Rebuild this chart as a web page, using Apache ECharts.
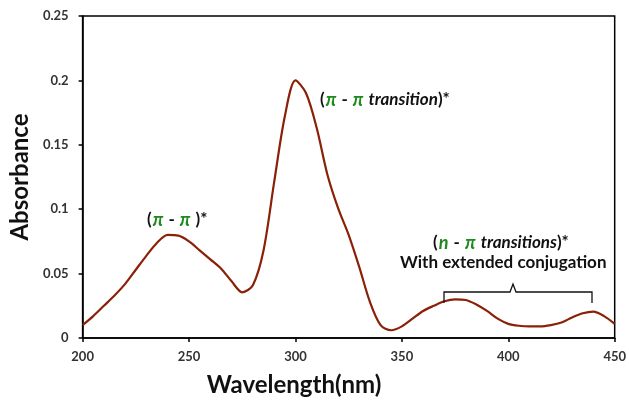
<!DOCTYPE html>
<html><head><meta charset="utf-8">
<script src="https://cdn.jsdelivr.net/npm/echarts@6/dist/echarts.min.js"></script>
<style>html,body{margin:0;padding:0;background:#fff}#c{width:629px;height:405px}</style>
</head><body><div id="c"></div>
<script>
const wavelengths = [200,205,210,215,220,225,230,235,240,245,250,255,260,265,270,275,280,285,290,295,300,305,310,315,320,325,330,335,340,345,350,355,360,365,370,375,380,385,390,395,400,405,410,415,420,425,430,435,440,445,450];
const absorbance  = [0.010,0.017,0.025,0.033,0.042,0.053,0.064,0.074,0.0800,0.0795,0.075,0.068,0.061,0.054,0.044,0.0355,0.041,0.068,0.121,0.172,0.200,0.190,0.163,0.127,0.101,0.080,0.055,0.028,0.010,0.006,0.009,0.015,0.021,0.025,0.0285,0.0300,0.0295,0.026,0.021,0.015,0.011,0.0095,0.009,0.009,0.010,0.012,0.016,0.0192,0.0205,0.017,0.011];
const xTicks = [200,250,300,350,400,450];
const yTicks = [0,0.05,0.1,0.15,0.2,0.25];

const chart = echarts.init(document.getElementById('c'));
const F = 'Lato, "Open Sans", sans-serif';
const G = '#1e8a1e';
function rt(x,y,text,size){
  return {type:'text', z:100, style:{x:x, y:y, textVerticalAlign:'middle', text:text, font:`bold ${size}px ${F}`, fill:'#111', rich:{
    g:{fill:G, fontStyle:'italic', fontWeight:'bold', fontSize:size+1, fontFamily:F, padding:[0,1]},
    i:{fill:'#111', fontStyle:'italic', fontWeight:'bold', fontSize:size, fontFamily:F},
    b:{fill:'#111', fontWeight:'bold', fontSize:size, fontFamily:F}
  }}};
}
chart.setOption({
  animation:false,
  grid:{left:80, right:10, top:16, bottom:67, show:true, borderColor:'#000', borderWidth:1.5},
  xAxis:{type:'value', min:200, max:450, interval:50,
    axisLine:{lineStyle:{color:'#000', width:1.5}},
    axisTick:{show:true, inside:false, length:4, lineStyle:{color:'#000', width:1.5}},
    axisLabel:{fontFamily:F, fontWeight:'bold', fontSize:13, color:'#333', margin:12,
      customValues:xTicks},
    splitLine:{show:false}},
  yAxis:{type:'value', min:0, max:0.25, interval:0.05,
    name:'Absorbance', nameLocation:'middle', nameGap:50,
    nameTextStyle:{fontFamily:F, fontWeight:'bold', fontSize:24, color:'#111'},
    axisLine:{show:true, lineStyle:{color:'#000', width:1.5}},
    axisTick:{show:true, inside:false, length:4, lineStyle:{color:'#000', width:1.5}},
    axisLabel:{fontFamily:F, fontWeight:'bold', fontSize:13, color:'#333', margin:14,
      formatter:v=>String(+v.toFixed(2))},
    splitLine:{show:false}},
  series:[{type:'line', smooth:0.3, symbol:'none',
    data:wavelengths.map((w,i)=>[w,absorbance[i]]),
    lineStyle:{color:'#8b2008', width:2.2}}],
  graphic:[
    {type:'text', z:100, style:{x:294, y:385, textAlign:'center', textVerticalAlign:'middle',
      text:'Wavelength(nm)', font:`bold 24px ${F}`, fill:'#111'}},
    rt(147,220,'{b|(}{g|π} {b|-} {g|π} {b|)*}',17),
    rt(320,100,'{b|(}{g|π} {b|-} {g|π} {i|transition}{b|)*}',17),
    rt(433,243,'{b|(}{g|n} {b|-} {g|π} {i|transitions}{b|)*}',17),
    rt(400,263,'{b|With extended conjugation}',17),
    {type:'polyline', z:100, shape:{points:[[444,303],[444,292],[510,292],[513,284],[516,292],[592,292],[592,303]]},
      style:{stroke:'#111', lineWidth:1.3, fill:null}}
  ]
});
</script></body></html>
